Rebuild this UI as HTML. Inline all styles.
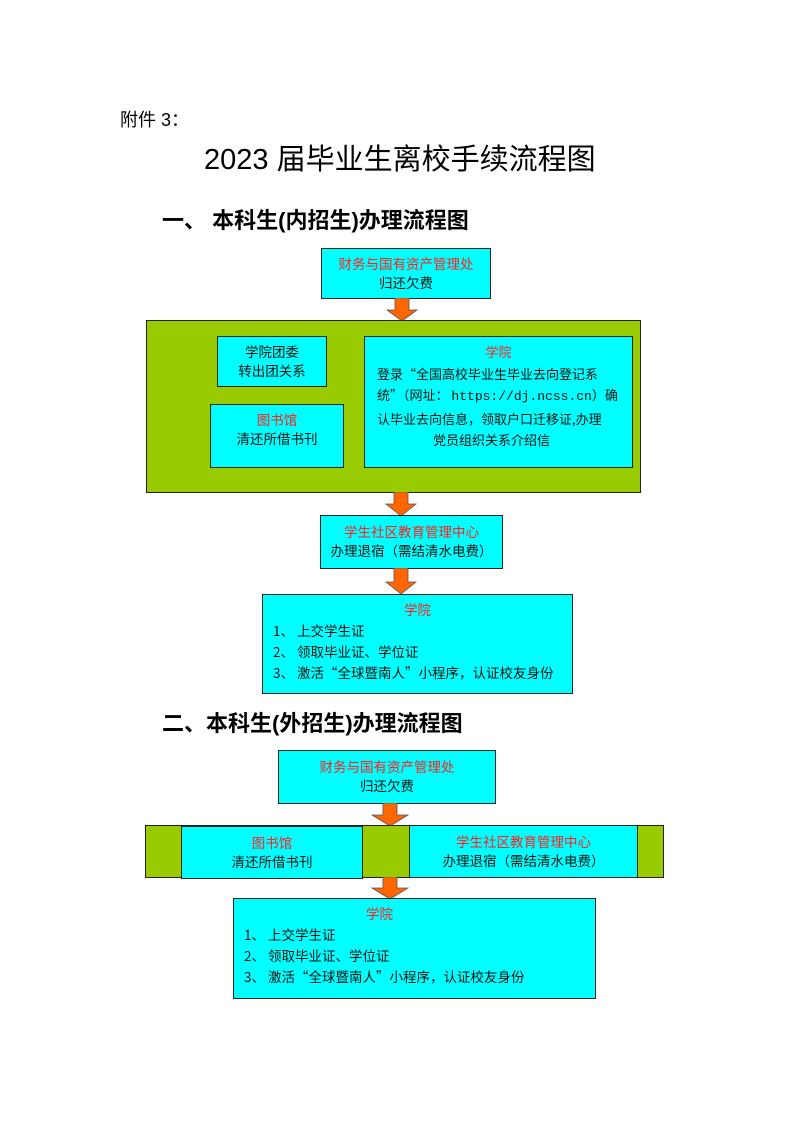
<!DOCTYPE html>
<html><head><meta charset="utf-8"><style>
body{margin:0;width:799px;height:1131px;background:#fff;position:relative;font-family:"Liberation Sans","Noto Sans CJK SC",sans-serif;overflow:hidden}
.a{position:absolute}
.box{position:absolute;background:#00ffff;border:1.5px solid #222;box-sizing:border-box;font-size:13.5px;color:#111;text-align:center;line-height:19px;font-family:"Noto Sans CJK SC",sans-serif;white-space:nowrap}
.g{position:absolute;background:#99cc00;border:1.5px solid #222;box-sizing:border-box}
.r{color:#ff2020}
.l{text-align:left;padding-left:10px}
</style></head><body>
<div class="a" style="left:120px;top:106px;font-size:18px">附件 3：</div>
<div class="a" style="left:204px;top:136px;font-size:29px;letter-spacing:0px">2023 届毕业生离校手续流程图</div>
<div class="a" style="left:162px;top:203px;font-size:22px;font-weight:bold">一、 本科生(内招生)办理流程图</div>

<div class="box" style="left:321px;top:248px;width:170px;height:51px;padding-top:5px"><span class="r">财务与国有资产管理处</span><br>归还欠费</div>
<svg class="a" style="left:386px;top:298px" width="32" height="24"><polygon points="9,0 23,0 23,12 31,12 16,23 1,12 9,12" fill="#ff6600" stroke="#555" stroke-width="0.8"/></svg>
<div class="g" style="left:146px;top:320px;width:495px;height:173px"></div>
<div class="box" style="left:217px;top:336px;width:110px;height:51px;padding-top:5px">学院团委<br>转出团关系</div>
<div class="box" style="left:210px;top:404px;width:134px;height:64px;padding-top:5px"><span class="r">图书馆</span><br>清还所借书刊</div>
<div class="box" style="left:364px;top:336px;width:269px;height:132px;padding:4px 0 0 12px;line-height:21.5px;text-align:left;font-size:13px"><div style="text-align:center;padding-right:12px" class="r">学院</div>登录“全国高校毕业生毕业去向登记系<br>统”（网址： <span style="font-family:'Liberation Mono',monospace">https://dj.ncss.cn</span>）确<br>认毕业去向信息，领取户口迁移证,办理<br><span style="padding-left:56px">党员组织关系介绍信</span></div>
<svg class="a" style="left:385px;top:492px" width="32" height="25"><polygon points="9,0 23,0 23,12 31,12 16,24 1,12 9,12" fill="#ff6600" stroke="#555" stroke-width="0.8"/></svg>
<div class="box" style="left:320px;top:515px;width:183px;height:54px;padding-top:6px"><span class="r">学生社区教育管理中心</span><br>办理退宿（需结清水电费）</div>
<svg class="a" style="left:385px;top:568px" width="32" height="27"><polygon points="9,0 23,0 23,14 31,14 16,26 1,14 9,14" fill="#ff6600" stroke="#555" stroke-width="0.8"/></svg>
<div class="box l" style="left:262px;top:594px;width:311px;height:100px;padding-top:4px;line-height:21px"><div class="r" style="text-align:center;padding-right:10px">学院</div>1、 上交学生证<br>2、 领取毕业证、学位证<br>3、 激活“全球暨南人”小程序，认证校友身份</div>

<div class="a" style="left:162px;top:706px;font-size:22px;font-weight:bold">二、本科生(外招生)办理流程图</div>
<div class="box" style="left:278px;top:750px;width:218px;height:54px;padding-top:6px"><span class="r">财务与国有资产管理处</span><br>归还欠费</div>
<svg class="a" style="left:371px;top:803px" width="38" height="24"><polygon points="12,0 26,0 26,12 37,12 19,23 1,12 12,12" fill="#ff6600" stroke="#555" stroke-width="0.8"/></svg>
<div class="g" style="left:145px;top:825px;width:519px;height:53px"></div>
<div class="box" style="left:181px;top:826px;width:182px;height:53px;padding-top:6px"><span class="r">图书馆</span><br>清还所借书刊</div>
<div class="box" style="left:409px;top:825px;width:229px;height:53px;padding-top:6px"><span class="r">学生社区教育管理中心</span><br>办理退宿（需结清水电费）</div>
<svg class="a" style="left:371px;top:877px" width="38" height="23"><polygon points="12,0 26,0 26,11 37,11 19,22 1,11 12,11" fill="#ff6600" stroke="#555" stroke-width="0.8"/></svg>
<div class="box l" style="left:233px;top:898px;width:363px;height:101px;padding-top:4px;padding-left:10px;line-height:21px"><div class="r" style="text-align:center;padding-right:80px">学院</div>1、 上交学生证<br>2、 领取毕业证、学位证<br>3、 激活“全球暨南人”小程序，认证校友身份</div>
</body></html>
